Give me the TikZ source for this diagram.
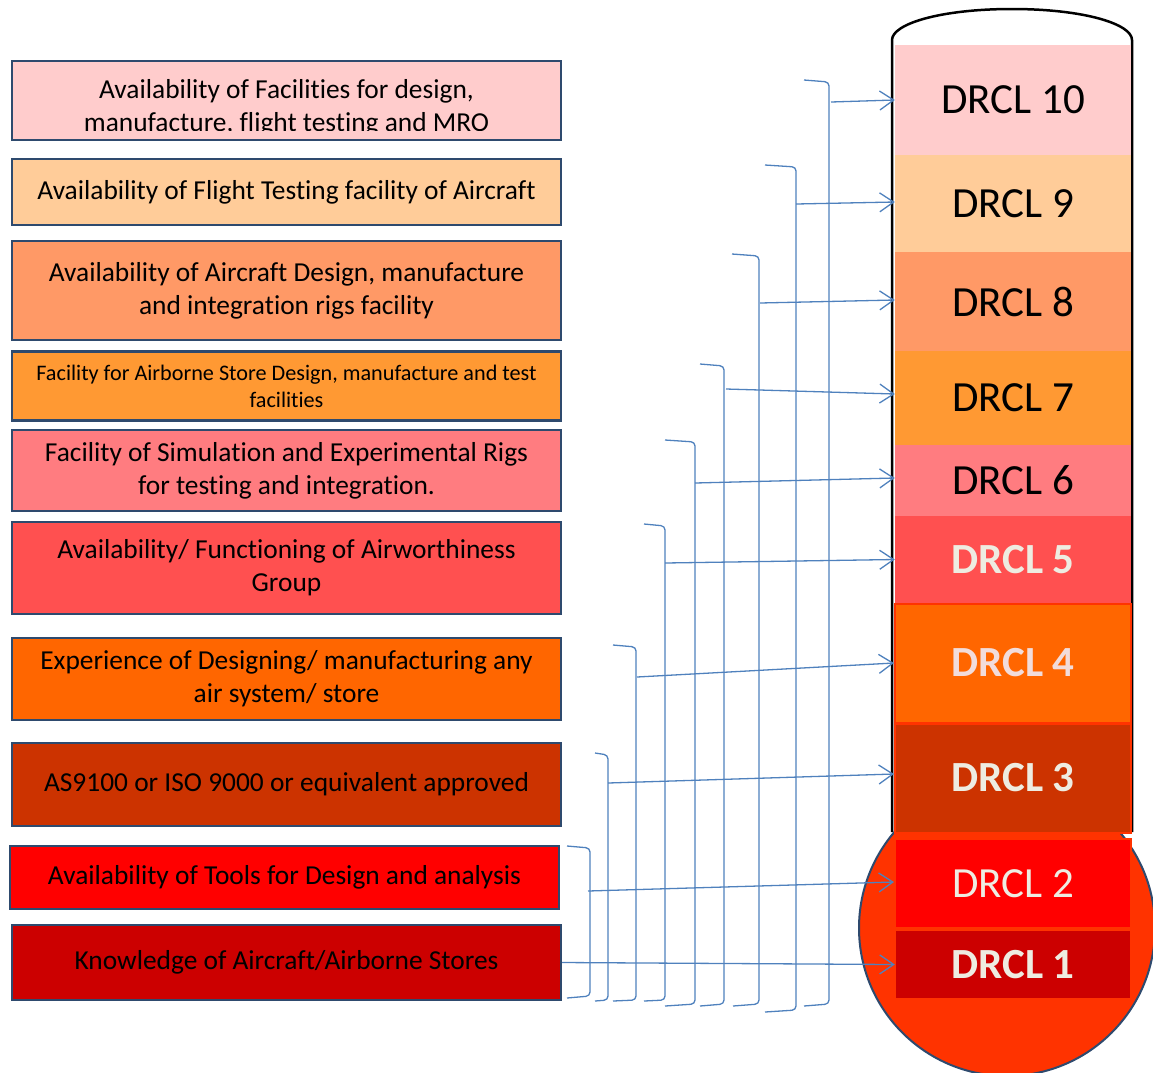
\documentclass[tikz,border=0pt]{standalone}
\usepackage{fontspec}
\setmainfont[Ligatures=NoCommon]{Carlito}
\usetikzlibrary{arrows.meta}
\definecolor{cten}{HTML}{FFCCCC}
\definecolor{cnine}{HTML}{FFCC99}
\definecolor{ceight}{HTML}{FF9966}
\definecolor{cseven}{HTML}{FF9933}
\definecolor{csix}{HTML}{FF7C80}
\definecolor{cfive}{HTML}{FF5050}
\definecolor{cfour}{HTML}{FF6600}
\definecolor{cthree}{HTML}{CC3300}
\definecolor{ctwo}{HTML}{FF0000}
\definecolor{cone}{HTML}{CC0000}
\definecolor{bulbc}{HTML}{FF3300}
\definecolor{boxline}{HTML}{2E4A6E}
\definecolor{connblue}{HTML}{4F81BD}
\definecolor{offwhite}{HTML}{EEECE1}
\definecolor{pinkwhite}{HTML}{F2DCDB}
\begin{document}
\begin{tikzpicture}[x=1pt,y=-1pt,
  lbox/.style={draw=boxline, line width=2.4pt, minimum width=549pt, inner sep=0pt,
    align=center, font=\fontsize{27.4}{33}\selectfont},
  dband/.style={minimum width=236pt, inner sep=0pt, font=\fontsize{43}{50}\selectfont},
  bandedge/.style={draw=bulbc, line width=2pt},
  brk/.style={draw=connblue, line width=1.3pt, rounded corners=4pt},
  conn/.style={draw=connblue, line width=1.3pt,
    -{Straight Barb[length=14pt,width=19pt,line width=1.3pt]}}]
\useasboundingbox (0,0) rectangle (1153,1072);

% ---------- left boxes ----------
\node[lbox, fill=cten, minimum height=79pt] (a10) at (286.5,100.5) {};
\begin{scope}
  \clip (13,62) rectangle (560,130);
  \node[align=center, inner sep=0pt, font=\fontsize{27.4}{33}\selectfont] (t10) at (286.5,108)
    {Availability of Facilities for design,\\ manufacture, flight testing and MRO};
\end{scope}
\node[lbox, fill=cnine, minimum height=66pt] (a9) at (286.5,192) {Availability of Flight Testing facility of Aircraft};
\node[lbox, fill=ceight, minimum height=99pt] (a8) at (286.5,290.5) {Availability of Aircraft Design, manufacture\\ and integration rigs facility};
\node[lbox, fill=cseven, minimum height=69pt, font=\fontsize{22.2}{27}\selectfont] (a7) at (286.5,386) {Facility for Airborne Store Design, manufacture and test\\ facilities};
\node[lbox, fill=csix, minimum height=81pt] (a6) at (286.5,470.5) {Facility of Simulation and Experimental Rigs\\ for testing and integration.};
\node[lbox, fill=cfive, minimum height=92pt] (a5) at (286.5,568) {Availability/ Functioning of Airworthiness\\ Group};
\node[lbox, fill=cfour, minimum height=82pt] (a4) at (286.5,679) {Experience of Designing/ manufacturing any\\ air system/ store};
\node[lbox, fill=cthree, minimum height=83pt] (a3) at (286.5,784.5) {AS9100 or ISO 9000 or equivalent approved};
\node[lbox, fill=ctwo, minimum height=63pt] (a2) at (284.5,877.5) {Availability of Tools for Design and analysis};
\node[lbox, fill=cone, minimum height=75pt] (a1) at (286.5,962.5) {Knowledge of Aircraft/Airborne Stores};

% ---------- thermometer ----------
\draw[black, line width=2.5pt] (892,832) -- (892,40)
  .. controls (892,24) and (940,9) .. (1012,9)
  .. controls (1084,9) and (1132,24) .. (1132,40) -- (1132,832);
\draw[boxline, line width=2pt, fill=bulbc] (1007,928) circle[radius=148];

\node[dband, fill=cten, minimum height=110pt] (d10) at (1013,100) {DRCL 10};
\node[dband, fill=cnine, minimum height=97pt] (d9) at (1013,203.5) {DRCL 9};
\node[dband, fill=ceight, minimum height=99pt] (d8) at (1013,301.5) {DRCL 8};
\node[dband, fill=cseven, minimum height=94pt] (d7) at (1013,398) {DRCL 7};
\node[dband, fill=csix, minimum height=71pt] (d6) at (1013,480.5) {DRCL 6};
\node[dband, fill=cfive, minimum height=87pt, text=offwhite, font=\fontsize{43}{50}\selectfont\bfseries] (d5) at (1013,559.5) {DRCL 5};
\node[dband, bandedge, fill=cfour, minimum height=119pt, text=pinkwhite, font=\fontsize{43}{50}\selectfont\bfseries] (d4) at (1013,663) {DRCL 4};
\node[dband, bandedge, fill=cthree, minimum height=109pt, text=offwhite, font=\fontsize{43}{50}\selectfont\bfseries] (d3) at (1013,778) {DRCL 3};
\node[dband, bandedge, fill=ctwo, minimum height=89pt, text=offwhite] (d2) at (1013,883.5) {DRCL 2};
\node[dband, fill=cone, minimum height=67pt, minimum width=234pt, text=offwhite, font=\fontsize{43}{50}\selectfont\bfseries] (d1) at (1013,964.5) {DRCL 1};

% ---------- brackets ----------
\draw[brk] (567,846) -- (590,848) -- (590,996) -- (567,998);
\draw[brk] (595,753) -- (608,755) -- (608,1000) -- (595,1001);
\draw[brk] (613,645) -- (636,647) -- (636,1000) -- (613,1001);
\draw[brk] (644,524) -- (665,526) -- (665,1000) -- (644,1001);
\draw[brk] (665,440) -- (695,442) -- (695,1004) -- (665,1006);
\draw[brk] (700,364) -- (724,366) -- (724,1004) -- (700,1006);
\draw[brk] (732,254) -- (759,256) -- (759,1004) -- (733,1006);
\draw[brk] (765,165) -- (796,167) -- (796,1010) -- (765,1012);
\draw[brk] (804,80) -- (829,82) -- (829,1004) -- (804,1006);

% ---------- connectors ----------
\coordinate (s10) at (831,102);
\coordinate (s9) at (796,204);
\coordinate (s8) at (760,303);
\coordinate (s7) at (726,389);
\coordinate (s6) at (695,483);
\coordinate (s5) at (665,563);
\coordinate (s4) at (637,677);
\coordinate (s3) at (608,783);
\coordinate (s2) at (588,891);
\draw[conn] (s10) -- (d10.west);
\draw[conn] (s9) -- ([yshift=1.5pt]d9.west);
\draw[conn] (s8) -- ([yshift=1.5pt]d8.west);
\draw[conn] (s7) -- ([yshift=4pt]d7.west);
\draw[conn] (s6) -- ([yshift=2.5pt]d6.west);
\draw[conn] (s5) -- (d5.west);
\draw[conn] (s4) -- (d4.west);
\draw[conn] (s3) -- ([yshift=4pt]d3.west);
\draw[conn] (s2) -- ([yshift=1.5pt]d2.west);
\draw[conn] (a1.east) -- ([xshift=-1pt]d1.west);
\end{tikzpicture}
\end{document}
